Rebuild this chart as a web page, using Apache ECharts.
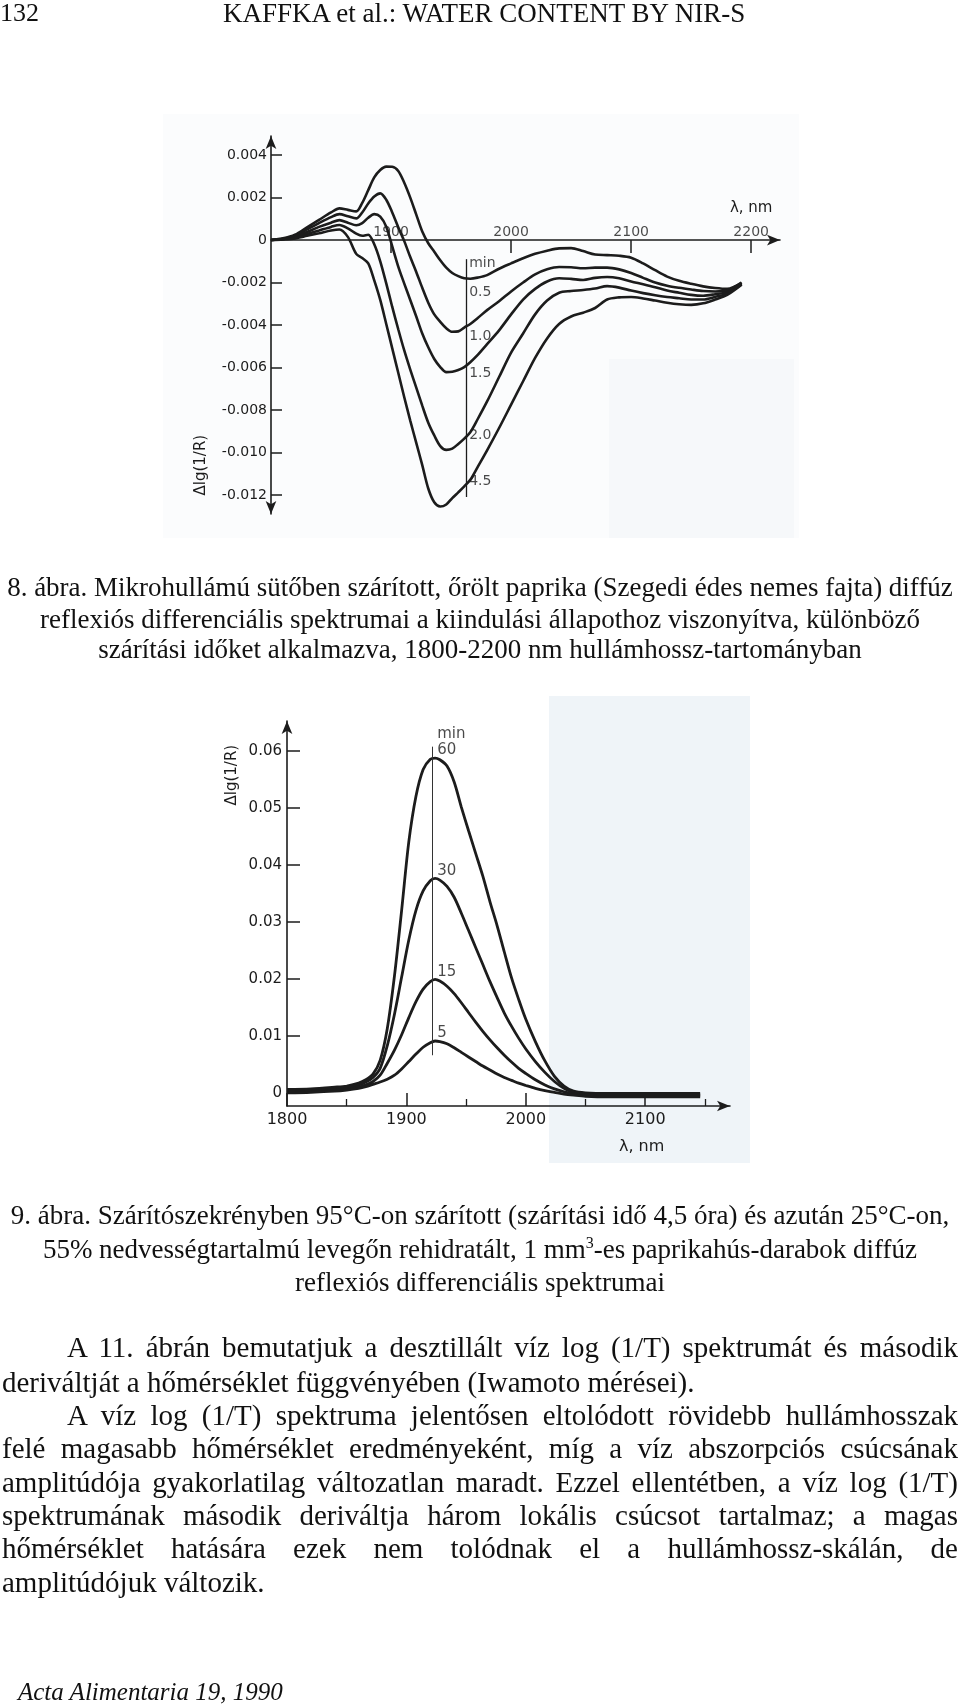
<!DOCTYPE html>
<html><head><meta charset="utf-8">
<script src="https://cdn.jsdelivr.net/npm/echarts@6/dist/echarts.min.js"></script>
<style>
html,body{margin:0;padding:0;background:#fff;}
#page{position:relative;width:960px;height:1704px;overflow:hidden;font-family:"Liberation Serif","Times New Roman",serif;color:#111;}
#chart{position:absolute;left:0;top:0;width:960px;height:1704px;}
.ln{position:absolute;white-space:nowrap;font-size:27px;line-height:32px;}
.b{font-size:29px;}
.c{left:0;width:960px;text-align:center;}
sup{font-size:16px;line-height:0;vertical-align:10px;}
</style></head>
<body><div id="page">
<div id="chart"></div>
<div class="ln" style="left:0;top:-3px;font-size:26px;">132</div>
<div class="ln" style="left:223px;top:-3px;">KAFFKA et al.: WATER CONTENT BY NIR-S</div>

<div class="ln c" style="top:571px;">8. ábra. Mikrohullámú sütőben szárított, őrölt paprika (Szegedi édes nemes fajta) diffúz</div>
<div class="ln c" style="top:603px;">reflexiós differenciális spektrumai a kiindulási állapothoz viszonyítva, különböző</div>
<div class="ln c" style="top:633px;">szárítási időket alkalmazva, 1800-2200 nm hullámhossz-tartományban</div>

<div class="ln c" style="top:1199px;">9. ábra. Szárítószekrényben 95°C-on szárított (szárítási idő 4,5 óra) és azután 25°C-on,</div>
<div class="ln c" style="top:1233px;">55% nedvességtartalmú levegőn rehidratált, 1 mm<sup>3</sup>-es paprikahús-darabok diffúz</div>
<div class="ln c" style="top:1266px;">reflexiós differenciális spektrumai</div>

<div class="ln b jj" data-w="891" style="left:67px;top:1331px;">A 11. ábrán bemutatjuk a desztillált víz log (1/T) spektrumát és második</div>
<div class="ln b" style="left:2px;top:1366px;">deriváltját a hőmérséklet függvényében (Iwamoto mérései).</div>
<div class="ln b jj" data-w="891" style="left:67px;top:1399px;">A víz log (1/T) spektruma jelentősen eltolódott rövidebb hullámhosszak</div>
<div class="ln b jj" data-w="956" style="left:2px;top:1432px;">felé magasabb hőmérséklet eredményeként, míg a víz abszorpciós csúcsának</div>
<div class="ln b jj" data-w="956" style="left:2px;top:1466px;">amplitúdója gyakorlatilag változatlan maradt. Ezzel ellentétben, a víz log (1/T)</div>
<div class="ln b jj" data-w="956" style="left:2px;top:1499px;">spektrumának második deriváltja három lokális csúcsot tartalmaz; a magas</div>
<div class="ln b jj" data-w="956" style="left:2px;top:1532px;">hőmérséklet hatására ezek nem tolódnak el a hullámhossz-skálán, de</div>
<div class="ln b" style="left:2px;top:1566px;">amplitúdójuk változik.</div>

<div class="ln" style="left:18px;top:1676px;font-style:italic;font-size:25px;">Acta Alimentaria 19, 1990</div>
</div>
<script>
// justify the body lines to their measured widths
document.querySelectorAll('.jj').forEach(el => {
  const target = parseFloat(el.dataset.w);
  el.style.wordSpacing = '0px';
  const nat = el.getBoundingClientRect().width;
  const spaces = (el.textContent.match(/ /g) || []).length;
  if (spaces) el.style.wordSpacing = ((target - nat) / spaces) + 'px';
});

// ---------- Figure 8 (top chart) ----------
const wl1 = [1800,1810,1820,1830,1840,1850,1857,1864,1871,1876,1881,1886,1891,1896,1901,1906,1911,1916,1921,1926,1931,1936,1941,1946,1951,1956,1961,1966,1972,1980,1990,2000,2010,2020,2030,2040,2050,2060,2070,2080,2090,2100,2110,2120,2130,2140,2150,2160,2170,2180,2192];
const c05 = [0,0.00008,0.00025,0.0006,0.00095,0.0013,0.00149,0.00142,0.00135,0.00175,0.00235,0.00295,0.0033,0.00346,0.00345,0.00325,0.0027,0.002,0.0012,0.0004,-0.00015,-0.00055,-0.00095,-0.0013,-0.00155,-0.0017,-0.0018,-0.00182,-0.00177,-0.00165,-0.00135,-0.0011,-0.00086,-0.00065,-0.0005,-0.00039,-0.00038,-0.00052,-0.00068,-0.00071,-0.00074,-0.00083,-0.0011,-0.00142,-0.00172,-0.00192,-0.00206,-0.00218,-0.00226,-0.0023,-0.002];
const c10 = [0,0.00006,0.0002,0.0005,0.0008,0.00108,0.00122,0.00112,0.00102,0.0013,0.00172,0.00205,0.0022,0.0019,0.0013,0.0006,-0.00005,-0.0008,-0.0015,-0.00225,-0.00295,-0.0035,-0.00385,-0.00415,-0.00432,-0.0043,-0.00412,-0.00395,-0.00368,-0.0033,-0.00288,-0.00242,-0.002,-0.00162,-0.00138,-0.00127,-0.00128,-0.00133,-0.0013,-0.0013,-0.00138,-0.00155,-0.00178,-0.002,-0.00215,-0.00225,-0.00233,-0.0024,-0.00242,-0.00238,-0.00202];
const c15 = [0,0.00005,0.00015,0.00038,0.00062,0.00082,0.00094,0.00082,0.0007,0.0008,0.00105,0.00122,0.0011,0.00063,-0.0003,-0.00125,-0.00205,-0.00282,-0.0036,-0.0044,-0.00505,-0.0056,-0.00598,-0.00622,-0.0062,-0.00612,-0.00598,-0.00575,-0.00542,-0.0049,-0.00425,-0.0035,-0.0028,-0.0023,-0.00195,-0.0018,-0.00183,-0.00188,-0.00178,-0.00174,-0.0018,-0.00195,-0.00208,-0.00222,-0.00238,-0.00248,-0.00258,-0.00262,-0.00255,-0.00245,-0.00205];
const c20 = [0,0.00004,0.0001,0.00028,0.00045,0.00062,0.00071,0.00055,0.0003,0.0002,0.00025,-0.0002,-0.001,-0.00204,-0.00315,-0.0042,-0.0052,-0.0061,-0.00695,-0.0078,-0.0086,-0.0092,-0.0097,-0.00988,-0.00982,-0.0096,-0.00935,-0.00905,-0.00845,-0.0076,-0.00645,-0.0053,-0.0044,-0.0035,-0.00285,-0.00248,-0.0024,-0.00235,-0.00228,-0.00217,-0.00224,-0.00238,-0.0025,-0.0026,-0.00268,-0.00274,-0.0028,-0.0028,-0.00268,-0.00252,-0.00208];
const c45 = [0,0.00003,0.00008,0.0002,0.00032,0.00045,0.0005,0.00015,-0.00065,-0.00085,-0.0011,-0.0019,-0.00282,-0.00395,-0.0051,-0.00625,-0.0074,-0.0085,-0.00955,-0.0106,-0.0117,-0.01235,-0.01255,-0.01245,-0.01215,-0.01188,-0.0116,-0.01129,-0.0107,-0.0099,-0.00885,-0.00775,-0.00665,-0.00555,-0.00463,-0.00395,-0.0036,-0.00342,-0.0032,-0.0028,-0.0027,-0.00268,-0.00275,-0.00285,-0.00295,-0.00302,-0.00305,-0.00298,-0.0028,-0.00258,-0.0021];
const curves1 = [c05, c10, c15, c20, c45];
const yTicks1 = [-0.012,-0.010,-0.008,-0.006,-0.004,-0.002,0,0.002,0.004];
const xTicks1 = [1900,2000,2100,2200];
const marker1X = 1963;
const marker1Y = [-0.0009,-0.0121];
const labelText1 = ['min','0.5','1.0','1.5','2.0','4.5'];
const labelY1 = [-0.00108,-0.00245,-0.00452,-0.00626,-0.00922,-0.01134];

// ---------- Figure 9 (lower chart) ----------
const wl2 = [1800,1820,1840,1850,1860,1866,1872,1878,1884,1890,1896,1902,1908,1914,1920,1924,1928,1934,1940,1946,1952,1958,1964,1970,1976,1982,1988,1994,2000,2008,2016,2024,2032,2040,2050,2070,2100,2125,2146];
const m60 = [0.0006,0.0007,0.001,0.0012,0.0017,0.0023,0.0033,0.0057,0.0113,0.0205,0.032,0.044,0.052,0.0567,0.0585,0.0587,0.0584,0.0573,0.0545,0.0501,0.046,0.042,0.038,0.0335,0.0293,0.0247,0.0202,0.0164,0.0129,0.009,0.0056,0.0029,0.0012,0.0003,0,-0.0001,-0.0001,-0.0001,-0.0001];
const m30 = [0.0004,0.0005,0.0008,0.001,0.0014,0.0019,0.0027,0.0043,0.0083,0.0138,0.0203,0.0268,0.032,0.0354,0.0372,0.0376,0.0373,0.0362,0.0343,0.0315,0.0285,0.0255,0.0225,0.0195,0.0167,0.014,0.0117,0.0096,0.0077,0.0055,0.0036,0.002,0.0008,0.0001,-0.0002,-0.0003,-0.0003,-0.0003,-0.0003];
const m15 = [0.0002,0.0003,0.0005,0.0007,0.001,0.0014,0.002,0.0031,0.0052,0.0075,0.0102,0.0132,0.016,0.0182,0.0195,0.0199,0.0196,0.0187,0.0174,0.0158,0.0141,0.0124,0.0108,0.0093,0.0079,0.0066,0.0054,0.0043,0.0034,0.0023,0.0014,0.0007,0.0002,-0.0002,-0.0004,-0.0005,-0.0005,-0.0005,-0.0005];
const m05 = [0,0.0001,0.0003,0.0005,0.0008,0.0011,0.0015,0.0019,0.0024,0.0031,0.0042,0.0055,0.0068,0.008,0.0088,0.0091,0.009,0.0086,0.0079,0.0071,0.0063,0.0055,0.0047,0.004,0.0033,0.0027,0.0022,0.0017,0.0013,0.0008,0.0004,0.0001,-0.0002,-0.0004,-0.0006,-0.0007,-0.0007,-0.0007,-0.0007];
const curves2 = [m60, m30, m15, m05];
const yTicks2 = [0,0.01,0.02,0.03,0.04,0.05,0.06];
const xMajor2 = [1800,1900,2000,2100];
const xMinor2 = [1850,1950,2050,2150];
const marker2X = 1922;
const marker2Y = [0.0066,0.0607];
const labelText2 = ['min','60','30','15','5'];
const labelY2 = [0.0629,0.0601,0.0389,0.0212,0.0105];

const INK = '#1c1c1c';
const FONT = '"DejaVu Sans", sans-serif';
const pair = (xs, ys) => xs.map((x, i) => [x, ys[i]]);

const chart = echarts.init(document.getElementById('chart'), null, {renderer: 'canvas'});

const lineSeries = (xs, ys, xi, yi, w) => ({
  type: 'line', xAxisIndex: xi, yAxisIndex: yi, data: pair(xs, ys),
  showSymbol: false, smooth: 0.3, silent: true,
  lineStyle: {color: INK, width: w}, z: 3
});

const series = [];
curves1.forEach(c => series.push(lineSeries(wl1, c, 0, 0, 2.6)));
curves2.forEach(c => series.push(lineSeries(wl2, c, 1, 1, 2.8)));

const labelScatter = (xi, yi, data, lab) => ({
  type: 'scatter', xAxisIndex: xi, yAxisIndex: yi, symbolSize: 1, silent: true, z: 5,
  itemStyle: {color: 'rgba(0,0,0,0)'}, data: data,
  label: Object.assign({show: true, formatter: p => p.data[2], fontFamily: FONT, color: INK}, lab)
});

// x tick labels of the top chart sit just above the zero line
series.push(labelScatter(0, 0, xTicks1.map(v => [v, 0, String(v)]), {position: 'top', distance: 0, fontSize: 14, lineHeight: 14}));

const s1 = labelScatter(0, 0, labelText1.map((t, i) => [marker1X, labelY1[i], t]), {position: 'right', distance: 2, fontSize: 14});
s1.markLine = {symbol: 'none', silent: true, label: {show: false},
  lineStyle: {type: 'solid', color: INK, width: 1.3},
  data: [[{coord: [marker1X, marker1Y[0]]}, {coord: [marker1X, marker1Y[1]]}]]};
series.push(s1);

const s2 = labelScatter(1, 1, labelText2.map((t, i) => [marker2X, labelY2[i], t]), {position: 'right', distance: 4, fontSize: 15});
s2.markLine = {symbol: 'none', silent: true, label: {show: false},
  lineStyle: {type: 'solid', color: '#333', width: 1},
  data: [[{coord: [marker2X, marker2Y[0]]}, {coord: [marker2X, marker2Y[1]]}]]};
series.push(s2);

const axLine = (sym, onZero) => ({show: true, onZero: !!onZero, symbol: sym, symbolSize: [8, 13],
  lineStyle: {color: INK, width: 1.6}});

chart.setOption({
  animation: false,
  backgroundColor: 'transparent',
  grid: [
    {left: 271, top: 136, width: 509, height: 378},
    {left: 287, top: 721, width: 443, height: 385}
  ],
  xAxis: [
    {gridIndex: 0, type: 'value', min: 1800, max: 2224, position: 'bottom',
     axisLine: axLine(['none', 'arrow'], true),
     axisTick: {show: true, inside: false, length: 13, customValues: xTicks1, lineStyle: {color: INK, width: 1.5}},
     axisLabel: {show: false},
     splitLine: {show: false}},
    {gridIndex: 1, type: 'value', min: 1800, max: 2171, position: 'bottom',
     axisLine: axLine(['none', 'arrow']),
     axisTick: {show: true, inside: true, length: 13, customValues: xMajor2, lineStyle: {color: INK, width: 1.5}},
     axisLabel: {customValues: xMajor2, margin: 6, fontFamily: FONT, fontSize: 16, color: INK, formatter: v => String(v)},
     splitLine: {show: false}},
    {gridIndex: 1, type: 'value', min: 1800, max: 2171, position: 'bottom', offset: 0,
     axisLine: {show: false, onZero: false},
     axisTick: {show: true, inside: true, length: 7, customValues: xMinor2, lineStyle: {color: INK, width: 1.3}},
     axisLabel: {show: false}, splitLine: {show: false}}
  ],
  yAxis: [
    {gridIndex: 0, type: 'value', min: -0.0129, max: 0.0049,
     axisLine: axLine(['arrow', 'arrow']),
     axisTick: {show: true, inside: true, length: 11, customValues: yTicks1, lineStyle: {color: INK, width: 1.5}},
     axisLabel: {customValues: yTicks1, margin: 4, fontFamily: FONT, fontSize: 14, color: INK,
                 formatter: v => (Math.abs(v) < 1e-9 ? '0' : v.toFixed(3))},
     splitLine: {show: false}},
    {gridIndex: 1, type: 'value', min: -0.0023, max: 0.0652,
     axisLine: axLine(['none', 'arrow']),
     axisTick: {show: true, inside: true, length: 13, customValues: yTicks2, lineStyle: {color: INK, width: 1.5}},
     axisLabel: {customValues: yTicks2, margin: 5, fontFamily: FONT, fontSize: 15, color: INK,
                 formatter: v => (Math.abs(v) < 1e-9 ? '0' : v.toFixed(2))},
     splitLine: {show: false}}
  ],
  series: series
});

// axis titles placed through the axes' own scales
const p = (g, v) => chart.convertToPixel({gridIndex: g}, v);
const n1 = p(0, [1742, -0.0106]);
const l1 = p(0, [2200, 0.00151]);
const n2 = p(1, [1754, 0.0557]);
const l2 = p(1, [2097, -0.0095]);
const txt = (pt, s, size, rot) => ({
  type: 'text', x: pt[0], y: pt[1], rotation: rot || 0, silent: true, z: 10,
  style: {text: s, fontFamily: FONT, fontSize: size, fill: INK, align: 'center', verticalAlign: 'middle'}
});
chart.setOption({
  graphic: [
    {type: 'rect', shape: {x: 163, y: 114, width: 636, height: 424}, style: {fill: '#fbfcfd'}, z: -20, silent: true},
    {type: 'rect', shape: {x: 609, y: 359, width: 185, height: 179}, style: {fill: '#f6f8fa'}, z: -19, silent: true},
    {type: 'rect', shape: {x: 549, y: 696, width: 201, height: 467}, style: {fill: '#eff4f8'}, z: -19, silent: true},
    txt(n1, 'Δlg(1/R)', 15, Math.PI / 2),
    txt(l1, 'λ, nm', 15),
    txt(n2, 'Δlg(1/R)', 15, Math.PI / 2),
    txt(l2, 'λ, nm', 16)
  ]
});
</script>
</body></html>
